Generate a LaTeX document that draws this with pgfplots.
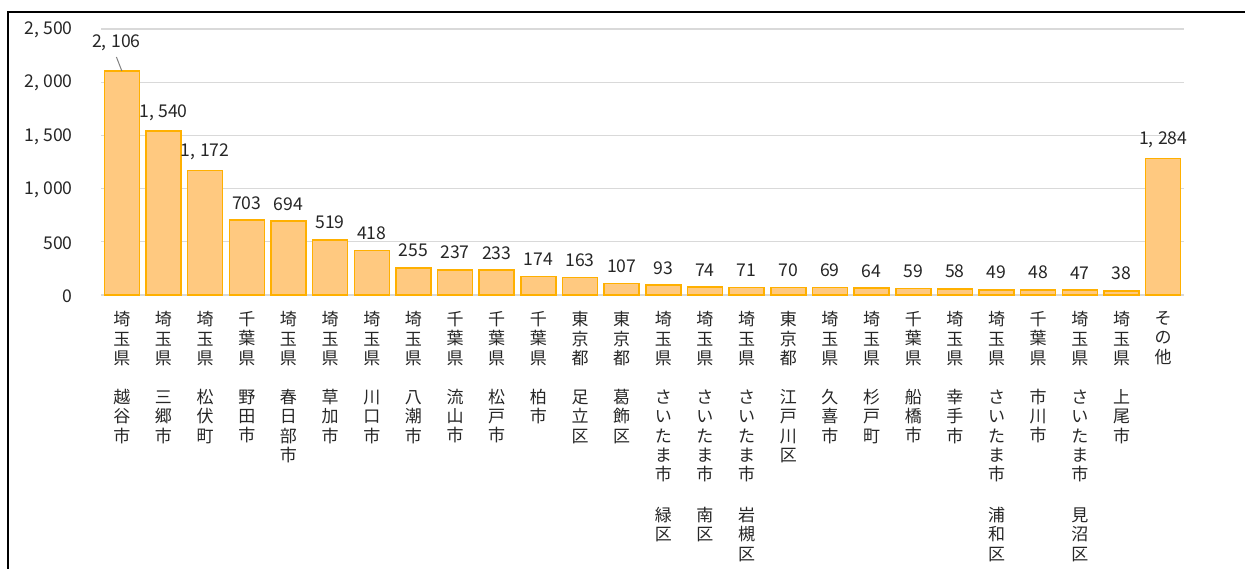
\documentclass[border=0pt]{standalone}
\usepackage{pgfplots}
\pgfplotsset{compat=1.18}
\usepackage{pgfplotstable}
\usepackage{fontspec}
\setmainfont{Noto Sans CJK JP}
\definecolor{barfill}{RGB}{255,201,128}
\definecolor{baredge}{RGB}{255,176,0}
\definecolor{gridc}{RGB}{217,217,217}
\definecolor{txt}{RGB}{38,38,38}
\newcommand\gp{\\[9.7pt]}
\newcommand\gq{\\[10.6pt]}
\newcommand\cm{,\kern0.25em}
\pgfplotstableread{
x y lab
0 2106 {}
1 1540 {1\cm540}
2 1172 {1\cm172}
3 703 703
4 694 694
5 519 519
6 418 418
7 255 255
8 237 237
9 233 233
10 174 174
11 163 163
12 107 107
13 93 93
14 74 74
15 71 71
16 70 70
17 69 69
18 64 64
19 59 59
20 58 58
21 49 49
22 48 48
23 47 47
24 38 38
25 1284 {1\cm284}
}\datatab
\begin{document}
\begin{tikzpicture}
\useasboundingbox (-50.5pt,-136.5pt) rectangle (572pt,147.5pt);
\clip (-50.5pt,-136.5pt) rectangle (572pt,147.5pt);
\draw[black, line width=0.8pt] (-46.5pt,-150pt) -- (-46.5pt,141.5pt) -- (580pt,141.5pt);
\begin{axis}[
  at={(0,0)}, anchor=south west,
  scale only axis,
  width=541.5pt, height=133pt,
  xmin=-0.5, xmax=25.5,
  ymin=0, ymax=2500,
  clip=false,
  axis line style={draw=none},
  ytick={0,500,1000,1500,2000,2500},
  yticklabels={0,500,{1\cm000},{1\cm500},{2\cm000},{2\cm500}},
  ymajorgrids,
  grid style={gridc, line width=0.6pt},
  major tick length=0pt,
  tick style={draw=none},
  yticklabel style={anchor=east, inner sep=0pt, xshift=-14pt, yshift=-0.5pt, font=\fontsize{8.8}{10}\selectfont, text=txt},
  xtick=data,
  xticklabels={
    {埼\\玉\\県\gp 越\\谷\\市},
    {埼\\玉\\県\gp 三\\郷\\市},
    {埼\\玉\\県\gp 松\\伏\\町},
    {千\\葉\\県\gp 野\\田\\市},
    {埼\\玉\\県\gp 春\\日\\部\\市},
    {埼\\玉\\県\gp 草\\加\\市},
    {埼\\玉\\県\gp 川\\口\\市},
    {埼\\玉\\県\gp 八\\潮\\市},
    {千\\葉\\県\gp 流\\山\\市},
    {千\\葉\\県\gp 松\\戸\\市},
    {千\\葉\\県\gp 柏\\市},
    {東\\京\\都\gp 足\\立\\区},
    {東\\京\\都\gp 葛\\飾\\区},
    {埼\\玉\\県\gp さ\\い\\た\\ま\\市\gq 緑\\区},
    {埼\\玉\\県\gp さ\\い\\た\\ま\\市\gq 南\\区},
    {埼\\玉\\県\gp さ\\い\\た\\ま\\市\gq 岩\\槻\\区},
    {東\\京\\都\gp 江\\戸\\川\\区},
    {埼\\玉\\県\gp 久\\喜\\市},
    {埼\\玉\\県\gp 杉\\戸\\町},
    {千\\葉\\県\gp 船\\橋\\市},
    {埼\\玉\\県\gp 幸\\手\\市},
    {埼\\玉\\県\gp さ\\い\\た\\ま\\市\gq 浦\\和\\区},
    {千\\葉\\県\gp 市\\川\\市},
    {埼\\玉\\県\gp さ\\い\\た\\ま\\市\gq 見\\沼\\区},
    {埼\\玉\\県\gp 上\\尾\\市},
    {そ\\の\\他}
  },
  xticklabel style={anchor=north, inner sep=0pt, yshift=-8pt, align=center,
    font=\fontsize{8.5}{9.7}\selectfont, text=txt},
]
\addplot[ybar, bar width=17.5pt, bar shift=0pt, fill=barfill, draw=baredge, line width=0.75pt,
  nodes near coords, point meta=explicit symbolic,
  every node near coord/.append style={anchor=south, inner sep=0pt, yshift=5pt,
    font=\fontsize{8.8}{10}\selectfont, text=txt}]
  table[x=x, y=y, meta=lab] {\datatab};
\draw[gray, line width=0.5pt] (axis cs:-0.13,2237) -- (axis cs:0,2106);
\node[anchor=south, inner sep=0pt, font=\fontsize{8.8}{10}\selectfont, text=txt] at (axis cs:-0.13,2293) {2\cm106};
\end{axis}
\end{tikzpicture}
\end{document}
